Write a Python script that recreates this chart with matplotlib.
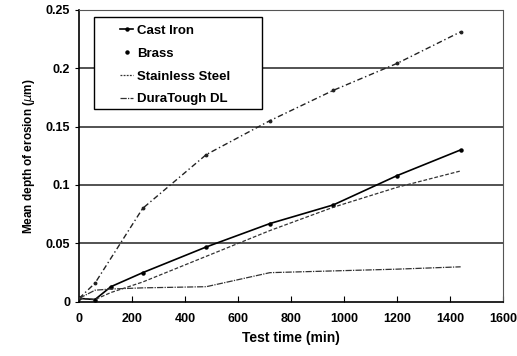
import matplotlib
matplotlib.use("Agg")
import matplotlib.pyplot as plt
from matplotlib.lines import Line2D
from matplotlib.patches import Rectangle

plt.rcParams['font.family'] = ['Liberation Sans', 'DejaVu Sans']

# test times (min) and mean depth of erosion (um)
t_cast = [0, 60, 120, 240, 480, 720, 960, 1200, 1440]
cast_iron = [0.003, 0.002, 0.013, 0.025, 0.047, 0.067, 0.083, 0.108, 0.130]

t_brass = [0, 60, 240, 480, 720, 960, 1200, 1440]
brass = [0.003, 0.016, 0.080, 0.126, 0.155, 0.181, 0.204, 0.231]

t_steel = [0, 60, 120, 240, 480, 720, 960, 1200, 1440]
steel = [0.003, 0.002, 0.008, 0.017, 0.039, 0.061, 0.081, 0.098, 0.112]

t_dura = [0, 60, 120, 240, 480, 720, 960, 1200, 1440]
dura = [0.003, 0.010, 0.011, 0.012, 0.013, 0.025, 0.0265, 0.028, 0.030]

xticks = [0, 200, 400, 600, 800, 1000, 1200, 1400, 1600]
yticks = [0, 0.05, 0.1, 0.15, 0.2, 0.25]
ylabels = ['0', '0.05', '0.1', '0.15', '0.2', '0.25']

fig = plt.figure(figsize=(5.17, 3.56), dpi=100)
ax = fig.add_axes([0.153, 0.152, 0.820, 0.821])

for y in yticks[1:-1]:
    ax.axhline(y, color='#444444', lw=1.3, zorder=1)

ax.plot(t_cast, cast_iron, color='black', lw=1.2, marker='o', ms=2.2, zorder=3)
ax.plot(t_brass, brass, color='#222222', lw=1.0, ls=(0, (4, 2, 1, 2)), marker='o', ms=1.8, zorder=3)
ax.plot(t_steel, steel, color='#333333', lw=0.9, ls=(0, (3, 1.5)), zorder=3)
ax.plot(t_dura, dura, color='#333333', lw=0.9, ls=(0, (5, 1, 1, 1)), zorder=3)

ax.set_xlim(0, 1600)
ax.set_ylim(0, 0.25)
ax.set_xticks(xticks)
ax.set_yticks(yticks)
ax.set_yticklabels(ylabels)
ax.tick_params(axis='x', direction='in', length=4, labelsize=9, pad=8)
ax.tick_params(axis='y', direction='out', length=3, labelsize=9)
for lab in ax.get_xticklabels() + ax.get_yticklabels():
    lab.set_fontweight('bold')

ax.spines['top'].set_linestyle((0, (1, 1)))
ax.spines['right'].set_linestyle((0, (1, 1)))
ax.spines['top'].set_color('#555555')
ax.spines['right'].set_color('#555555')
ax.spines['top'].set_linewidth(0.8)
ax.spines['right'].set_linewidth(0.8)
ax.spines['left'].set_linewidth(1.2)
ax.spines['bottom'].set_linewidth(1.2)

ax.set_xlabel('Test time (min)', fontsize=10, fontweight='bold', labelpad=4)
ax.set_ylabel(r'Mean depth of erosion ($\mu$m)', fontsize=8.5, fontweight='bold', labelpad=6)

# legend box drawn separately, it is wider than the entries
ax.add_patch(Rectangle((0.035, 0.66), 0.397, 0.314, transform=ax.transAxes,
                       facecolor='white', edgecolor='black', lw=1.0, zorder=5))

handles = [
    Line2D([], [], color='black', lw=1.2, marker='o', ms=2.2),
    Line2D([], [], color='black', ls='none', marker='o', ms=2.2),
    Line2D([], [], color='#333333', lw=0.9, ls=(0, (1.5, 1))),
    Line2D([], [], color='#333333', lw=0.9, ls=(0, (5, 1, 1, 1))),
]
names = ['Cast Iron', 'Brass', 'Stainless Steel', 'DuraTough DL']
leg = ax.legend(handles, names, loc='upper left', bbox_to_anchor=(0.097, 0.948), frameon=False,
                prop={'weight': 'bold', 'size': 9.5},
                handlelength=1.0, handletextpad=0.3, labelspacing=0.8, borderpad=0,
                borderaxespad=0)
leg.set_zorder(6)

fig.savefig('out.png', dpi=100)
